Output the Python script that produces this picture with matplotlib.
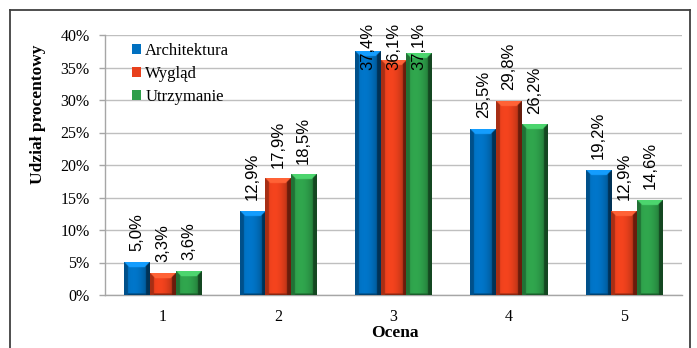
import numpy as np
import matplotlib
matplotlib.use('Agg')
import matplotlib.pyplot as plt
from matplotlib.patches import Patch
from matplotlib.lines import Line2D
from matplotlib.ticker import FuncFormatter

# ratings and share of answers per aspect (percent)
oceny = ['1', '2', '3', '4', '5']
architektura = [5.0, 12.9, 37.4, 25.5, 19.2]
wyglad = [3.3, 17.9, 36.1, 29.8, 12.9]
utrzymanie = [3.6, 18.5, 37.1, 26.2, 14.6]
serie = ['Architektura', 'Wygląd', 'Utrzymanie']
kolory = ['#0070C0', '#E8401C', '#2E9E4A']

plt.rcParams['font.family'] = ['Liberation Serif', 'DejaVu Serif']

W, H = 697, 348
fig = plt.figure(figsize=(W / 100, H / 100), dpi=100)
ax = fig.add_axes([105 / W, 1 - 295 / H, (682 - 105) / W, (295 - 35) / H])

YMAX = 40.0
px_per_unit = 260 / YMAX   # pixels per percent
bw = 0.222
x = np.arange(len(oceny))


def bevel_image(rgb, w_px, h_px, bev=4.0):
    """Shaded face of a bevelled bar, one row per half pixel from the top."""
    w_px = max(int(round(w_px)) * 2, 2)
    h_px = max(int(round(h_px)) * 2, 2)
    bev = bev * 2
    u = np.arange(w_px)[None, :] + 0.5
    d = np.arange(h_px)[:, None] + 0.5
    t = u / w_px
    # body: soft cylinder-like shading
    f = 0.95 + 0.12 * np.sin(np.pi * np.clip(t * 1.15, 0, 1)) - 0.25 * t ** 3
    f = np.broadcast_to(f, (h_px, w_px)).copy()
    left = np.broadcast_to(u < bev, f.shape)
    right = np.broadcast_to(u > w_px - bev, f.shape)
    top = (d < bev * 1.2) & (d < u) & (d < w_px - u)
    bottom = (d > h_px - 3) & ~left & ~right
    f[left] = 0.72
    f[right] = 0.45
    f[bottom] = 0.6
    f[top] = 1.22
    img = np.clip(np.array(rgb)[None, None, :] * f[:, :, None], 0, 1)
    # slight lightening of the top facet
    img[top] = np.clip(img[top] + 0.08, 0, 1)
    return img


for i, (vals, kol) in enumerate(zip([architektura, wyglad, utrzymanie], kolory)):
    pos = x + (i - 1) * bw
    bars = ax.bar(pos, vals, bw, color=kol, zorder=3, linewidth=0)
    rgb = matplotlib.colors.to_rgb(kol)
    for b, v in zip(bars, vals):
        x0 = b.get_x()
        img = bevel_image(rgb, 25.5, v * px_per_unit)
        ax.imshow(img, extent=[x0, x0 + bw, 0, v], aspect='auto',
                  interpolation='bilinear', zorder=4, origin='upper')
    # value labels, kept inside the chart area when they would overflow
    for xp, v in zip(pos, vals):
        txt = f'{v:.1f}%'.replace('.', ',')
        top_px = v * px_per_unit + 11 + 42
        if top_px > 272:
            ax.text(xp, YMAX + 12 / px_per_unit, txt, rotation=90,
                    ha='center', va='top', fontsize=12, zorder=6,
                    family=['Liberation Sans Narrow', 'Liberation Sans'])
        else:
            ax.annotate(txt, (xp, v), xytext=(0, 8), textcoords='offset points',
                        rotation=90, ha='center', va='bottom', fontsize=12,
                        zorder=6, family=['Liberation Sans Narrow', 'Liberation Sans'])

ax.set_xlim(-0.5, len(oceny) - 0.5)
ax.set_ylim(0, YMAX)
ax.set_yticks(np.arange(0, 41, 5))
ax.yaxis.set_major_formatter(FuncFormatter(lambda v, p: f'{v:.0f}%'))
ax.set_xticks(x)
ax.set_xticklabels(oceny)
ax.grid(axis='y', color='#BFBFBF', linewidth=1.0, zorder=0)
ax.set_axisbelow(True)
for s in ['top', 'right']:
    ax.spines[s].set_visible(False)
for s in ['left', 'bottom']:
    ax.spines[s].set_color('#A6A6A6')
    ax.spines[s].set_linewidth(1.0)
ax.tick_params(axis='y', length=4, width=1, color='#A6A6A6', pad=7, labelsize=11.5)
ax.tick_params(axis='x', length=0, pad=10, labelsize=11.5)

fig.text(38 / W, 1 - 114 / H, 'Udział procentowy', rotation=90, ha='center',
         va='center', fontsize=12.5, fontweight='bold')
fig.text(395 / W, 1 - 333 / H, 'Ocena', ha='center', va='center',
         fontsize=12.5, fontweight='bold')

handles = [Patch(facecolor=k, edgecolor='none') for k in kolory]
fig.legend(handles, serie, loc='upper left', bbox_to_anchor=(132 / W, 1 - 43 / H),
           bbox_transform=fig.transFigure, frameon=False, fontsize=12,
           handlelength=0.55, handleheight=0.55, handletextpad=0.25,
           labelspacing=0.42, borderpad=0, borderaxespad=0)

# outer frame of the chart area (open at the bottom)
frame = dict(color='#404040', linewidth=1.3, transform=fig.transFigure)
fig.add_artist(Line2D([10 / W, 10 / W], [0, 1 - 10 / H], **frame))
fig.add_artist(Line2D([10 / W, 690 / W], [1 - 10 / H, 1 - 10 / H], **frame))
fig.add_artist(Line2D([690 / W, 690 / W], [0, 1 - 10 / H], **frame))

fig.savefig('out.png', dpi=100)
